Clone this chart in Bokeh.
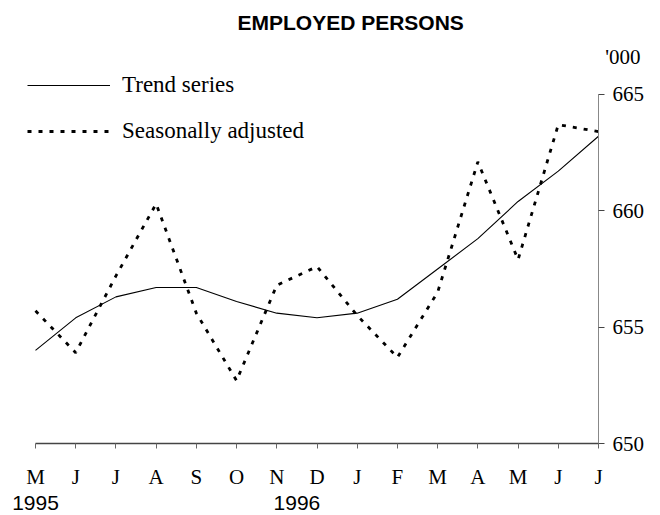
from bokeh.plotting import figure
from bokeh.models import Range1d, FixedTicker, Legend, LegendItem, LinearAxis, Title
from bokeh.embed import file_html
from bokeh.resources import INLINE

# ---- data ----
months = ["M", "J", "J", "A", "S", "O", "N", "D", "J", "F", "M", "A", "M", "J", "J"]
years = ["1995", "1996"]
year_pos = [0, 6.5]
trend = [654.0, 655.4, 656.3, 656.7, 656.7, 656.1, 655.6, 655.4, 655.6, 656.2,
         657.5, 658.8, 660.4, 661.7, 663.2]
seas_adj = [655.7, 653.9, 657.2, 660.3, 655.6, 652.7, 656.8, 657.6, 655.5, 653.7,
            656.5, 662.1, 657.9, 663.7, 663.4]
y_ticks = [650, 655, 660, 665]

idx = list(range(len(months)))

# ---- geometry ----
FRAME_L, FRAME_R, FRAME_T, FRAME_B = 8, 598, 68, 443
W, H = 660, 515
X0_PAGE = 35.0
XSTEP = (FRAME_R - X0_PAGE) / 14
YSTEP = 23.4


def px_x(px):
    return (px - X0_PAGE) / XSTEP


def px_y(py):
    return 650 + (FRAME_B - py) / YSTEP


p = figure(width=W, height=H, output_backend="svg", toolbar_location=None,
           title=None,
           x_range=Range1d(px_x(FRAME_L), 14), y_range=Range1d(650, px_y(FRAME_T)),
           y_axis_location="right",
           min_border_left=FRAME_L, min_border_right=W - FRAME_R,
           min_border_top=FRAME_T, min_border_bottom=H - FRAME_B)
p.outline_line_color = None
p.xgrid.grid_line_color = None
p.ygrid.grid_line_color = None
p.background_fill_color = "white"
p.border_fill_color = "white"

# unit label (nearest the frame) and main title (outer)
t_unit = Title(text="'000", align="right", offset=-42, standoff=3,
               text_font="Liberation Serif", text_font_style="normal",
               text_font_size="21px", text_color="black")
t_main = Title(text="EMPLOYED PERSONS", align="left", offset=229, standoff=16,
               text_font="Liberation Sans", text_font_style="bold",
               text_font_size="21px", text_color="black")
p.add_layout(t_unit, "above")
p.add_layout(t_main, "above")

r_trend = p.line(idx, trend, line_color="black", line_width=1.1)
r_sa = p.line(idx, seas_adj, line_color="black", line_width=2.8, line_dash="4 7")

# x axis (months)
xa = p.xaxis[0]
xa.ticker = FixedTicker(ticks=idx)
xa.major_label_overrides = {i: m for i, m in enumerate(months)}
xa.bounds = (0, 14)
xa.axis_line_color = "#444444"
xa.axis_line_width = 1.5
xa.major_tick_out = 5
xa.major_tick_in = 0
xa.major_tick_line_color = "#666666"
xa.minor_tick_line_color = None
xa.major_label_text_font = "Liberation Serif"
xa.major_label_text_font_size = "21px"
xa.major_label_text_color = "black"
xa.major_label_standoff = 16

# second row: years
ya2 = LinearAxis(ticker=FixedTicker(ticks=year_pos),
                 major_label_overrides={float(v): t for v, t in zip(year_pos, years)})
ya2.axis_line_color = None
ya2.major_tick_line_color = None
ya2.minor_tick_line_color = None
ya2.major_tick_out = 0
ya2.major_tick_in = 0
ya2.major_label_standoff = 4
ya2.major_label_text_font = "Liberation Sans"
ya2.major_label_text_font_size = "21px"
ya2.major_label_text_color = "black"
p.add_layout(ya2, "below")

# right y axis
ya = p.yaxis[0]
ya.ticker = FixedTicker(ticks=y_ticks)
ya.bounds = (650, 665)
ya.axis_line_color = "#888888"
ya.axis_line_width = 1
ya.major_tick_out = 6
ya.major_tick_in = 0
ya.major_tick_line_color = "#444444"
ya.minor_tick_line_color = None
ya.major_label_text_font = "Liberation Serif"
ya.major_label_text_font_size = "21px"
ya.major_label_text_color = "black"
ya.major_label_standoff = 8

legend = Legend(items=[LegendItem(label="Trend series", renderers=[r_trend]),
                       LegendItem(label="Seasonally adjusted", renderers=[r_sa])],
                location=(19, FRAME_B - FRAME_T - 8 - 68), glyph_width=83,
                glyph_height=20, label_height=20,
                spacing=20, padding=0, margin=0, label_standoff=12,
                border_line_color=None, background_fill_alpha=0,
                label_text_font="Liberation Serif", label_text_font_size="23px",
                label_text_color="black")
p.add_layout(legend)

open("out.html", "w").write(file_html(p, INLINE))
